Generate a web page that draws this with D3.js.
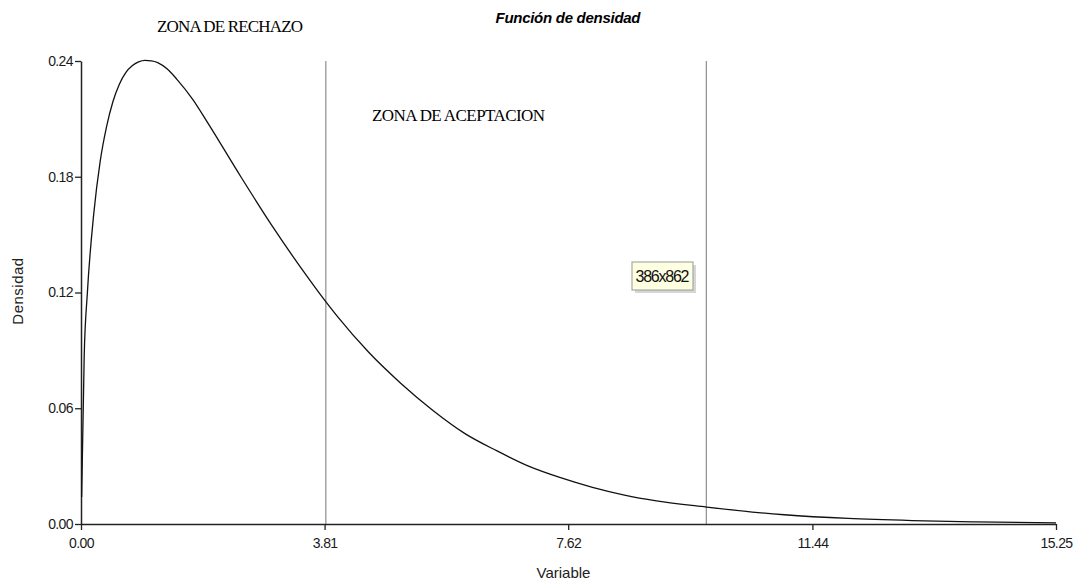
<!DOCTYPE html>
<html>
<head>
<meta charset="utf-8">
<script src="https://cdn.jsdelivr.net/npm/d3@7"></script>
<style>
  body { margin: 0; background: #fff; }
  svg { display: block; }
  .tick text { font-family: "Liberation Sans Narrow", "Liberation Sans", Arial, sans-serif; font-size: 14px; letter-spacing: -0.6px; fill: #1a1a1a; }
</style>
</head>
<body>
<svg id="chart" width="1081" height="584"></svg>
<script>
// valores
let curveX = [0.01, 0.05, 0.1, 0.2, 0.3, 0.4, 0.5, 0.6, 0.7, 0.8, 0.9, 1.0, 1.1, 1.2, 1.35, 1.5, 1.75, 2.0, 2.5, 3.0, 3.5, 3.81, 4.0, 4.5,
              5.0, 5.5, 6.0, 6.5, 7.0, 7.5, 8.0, 8.5, 9.0, 9.78, 10.5, 11.0, 12.0, 13.0, 14.0, 15.25];
let curveY = [0.014, 0.087, 0.120, 0.161, 0.188, 0.206, 0.219, 0.228, 0.234, 0.2375, 0.2395, 0.2403, 0.2401, 0.2392, 0.2358,
              0.2305, 0.220, 0.207, 0.180, 0.154, 0.130, 0.116, 0.108, 0.089, 0.073, 0.059, 0.047, 0.038, 0.030, 0.024,
              0.019, 0.015, 0.012, 0.0088, 0.0062, 0.0048, 0.0029, 0.0018, 0.0011, 0.0006];
let xTicks = [0.00, 3.81, 7.62, 11.44, 15.25];
let yTicks = [0.00, 0.06, 0.12, 0.18, 0.24];
let cutLines = [3.83, 9.78];

let svg = d3.select('#chart');
let margin = {top: 61, right: 25, bottom: 60, left: 81};
let width = +svg.attr("width") - margin.left - margin.right,
    height = +svg.attr("height") - margin.top - margin.bottom;
let g = svg.append("g").attr("transform", "translate(" + margin.left + "," + margin.top + ")");

let x = d3.scaleLinear().domain([0, 15.25]).range([0, width]);
let y = d3.scaleLinear().domain([0, 0.24]).range([height, 0]);

// lineas de corte
g.selectAll(".cut")
  .data(cutLines)
  .enter().append("line")
  .attr("class", "cut")
  .attr("x1", d => x(d)).attr("x2", d => x(d))
  .attr("y1", y(0.24)).attr("y2", y(0))
  .attr("stroke", "#777").attr("stroke-width", 1);

// ejes
let xAxis = g.append("g")
  .attr("transform", "translate(0," + height + ")")
  .call(d3.axisBottom(x).tickValues(xTicks).tickFormat(d3.format(".2f")).tickSize(6).tickSizeOuter(0));
let yAxis = g.append("g")
  .call(d3.axisLeft(y).tickValues(yTicks).tickFormat(d3.format(".2f")).tickSize(6).tickSizeOuter(0));

[xAxis, yAxis].forEach(function(a){
  a.select(".domain").attr("stroke", "#222").attr("stroke-width", 1.5);
  a.selectAll(".tick line").attr("stroke", "#222").attr("stroke-width", 1.3);
});
xAxis.selectAll(".tick text").attr("dy", "1.05em");
yAxis.selectAll(".tick text").attr("x", -8);

// curva de densidad
let pts = curveX.map((v, i) => [v, curveY[i]]);
g.append("path")
  .datum(pts)
  .attr("fill", "none")
  .attr("stroke", "#111")
  .attr("stroke-width", 1.3)
  .attr("d", d3.line().x(d => x(d[0])).y(d => y(d[1])).curve(d3.curveMonotoneX));

// textos
svg.append("text")
  .attr("x", 568).attr("y", 23)
  .attr("text-anchor", "middle")
  .style("font-family", "Liberation Sans, Arial, sans-serif")
  .style("font-size", "15px").style("font-weight", "bold").style("font-style", "italic")
  .attr("textLength", 145)
  .text("Función de densidad");

svg.append("text")
  .attr("x", 157).attr("y", 32)
  .style("font-family", "Liberation Serif, Times New Roman, serif")
  .style("font-size", "17px")
  .attr("textLength", 146)
  .text("ZONA DE RECHAZO");

svg.append("text")
  .attr("x", 372).attr("y", 121)
  .style("font-family", "Liberation Serif, Times New Roman, serif")
  .style("font-size", "17px")
  .attr("textLength", 173)
  .text("ZONA DE ACEPTACION");

svg.append("text")
  .attr("x", margin.left + width / 2 - 5).attr("y", 578)
  .attr("text-anchor", "middle")
  .style("font-family", "Liberation Sans, Arial, sans-serif")
  .style("font-size", "15px").style("fill", "#222")
  .text("Variable");

svg.append("text")
  .attr("transform", "translate(23,291) rotate(-90)")
  .attr("text-anchor", "middle")
  .style("font-family", "Liberation Sans, Arial, sans-serif")
  .style("font-size", "15px").style("fill", "#222")
  .style("letter-spacing", "0.5px")
  .text("Densidad");

// etiqueta flotante
let tip = svg.append("g").attr("transform", "translate(632,262)");
tip.append("rect").attr("x", 3).attr("y", 3).attr("width", 61).attr("height", 28).attr("fill", "#bbb").attr("opacity", 0.6);
tip.append("rect").attr("width", 61).attr("height", 28).attr("fill", "#ffffe1").attr("stroke", "#999");
tip.append("text")
  .attr("x", 30.5).attr("y", 20)
  .attr("text-anchor", "middle")
  .style("font-family", "Liberation Sans Narrow, Liberation Sans, Arial, sans-serif")
  .style("font-size", "16px").style("fill", "#111")
  .attr("textLength", 54)
  .text("386x862");
</script>
</body>
</html>
